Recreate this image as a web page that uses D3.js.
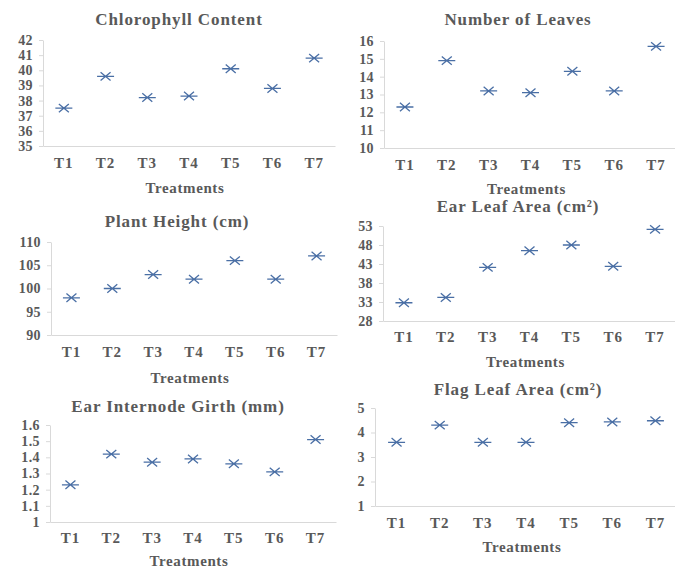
<!DOCTYPE html>
<html>
<head>
<meta charset="utf-8">
<script src="https://cdn.jsdelivr.net/npm/d3@7/dist/d3.min.js"></script>
<style>
  html, body { margin: 0; padding: 0; background: #ffffff; }
  svg { display: block; }
  .panel text { font-family: "Liberation Serif", "Times New Roman", serif; font-weight: bold; fill: #595959; }
</style>
</head>
<body>
<svg id="chart" width="675" height="569"></svg>
<script>
// Treatments shared by all six trait plots
const treatments = ["T1", "T2", "T3", "T4", "T5", "T6", "T7"];

// Trait means per treatment
const chlorophyll   = [37.5, 39.6, 38.2, 38.3, 40.1, 38.8, 40.8];
const leafCount     = [12.3, 14.9, 13.2, 13.1, 14.3, 13.2, 15.7];
const plantHeight   = [98, 100, 103, 102, 106, 102, 107];
const earLeafArea   = [32.8, 34.2, 42.1, 46.5, 48.0, 42.4, 52.1];
const internodeGirth = [1.23, 1.42, 1.37, 1.39, 1.36, 1.31, 1.51];
const flagLeafArea  = [3.6, 4.3, 3.6, 3.6, 4.4, 4.43, 4.48];

// Y-axis tick labels per trait
const chlorophyllTicks = [35, 36, 37, 38, 39, 40, 41, 42];
const leafCountTicks   = [10, 11, 12, 13, 14, 15, 16];
const heightTicks      = [90, 95, 100, 105, 110];
const earLeafTicks     = [28, 33, 38, 43, 48, 53];
const girthTicks       = [1, 1.1, 1.2, 1.3, 1.4, 1.5, 1.6];
const flagLeafTicks    = [1, 2, 3, 4, 5];

const titles = ["Chlorophyll Content", "Number of Leaves", "Plant Height (cm)",
                "Ear Leaf Area (cm²)", "Ear Internode Girth (mm)", "Flag Leaf Area (cm²)"];
const xTitle = "Treatments";

// Panel frames: plot box, title position and label baselines
const panels = [
  { values: chlorophyll,   ticks: chlorophyllTicks, fmt: d3.format("d"),
    left: 43,  right: 335, top: 40,  bottom: 146, titleX: 179, titleY: 25,  catY: 168, labY: 193 },
  { values: leafCount,     ticks: leafCountTicks,   fmt: d3.format("d"),
    left: 384, right: 677, top: 41,  bottom: 148, titleX: 518, titleY: 25,  catY: 170, labY: 194 },
  { values: plantHeight,   ticks: heightTicks,      fmt: d3.format("d"),
    left: 51,  right: 337, top: 242, bottom: 335, titleX: 177, titleY: 227, catY: 357, labY: 383 },
  { values: earLeafArea,   ticks: earLeafTicks,     fmt: d3.format("d"),
    left: 383, right: 676, top: 226, bottom: 321, titleX: 518, titleY: 212, catY: 342, labY: 367 },
  { values: internodeGirth, ticks: girthTicks,      fmt: d => d3.format(".1f")(d).replace(/\.0$/, ""),
    left: 50,  right: 336, top: 425, bottom: 522, titleX: 178, titleY: 412, catY: 543, labY: 566 },
  { values: flagLeafArea,  ticks: flagLeafTicks,    fmt: d3.format("d"),
    left: 375, right: 677, top: 408, bottom: 506, titleX: 518, titleY: 395, catY: 528, labY: 552 }
];

// Star marker: an X crossed by a horizontal stroke
const starMarker = {
  draw(context, size) {
    const w = 8.5, a = 5, h = 4.2;
    context.moveTo(-w, 0); context.lineTo(w, 0);
    context.moveTo(-a, -h); context.lineTo(a, h);
    context.moveTo(-a, h); context.lineTo(a, -h);
  }
};

const svg = d3.select("#chart");
const axisColor = "#d9d9d9";

panels.forEach((p, i) => {
  const g = svg.append("g").attr("class", "panel");

  const x = d3.scaleBand().domain(treatments).range([p.left, p.right]);
  const y = d3.scaleLinear()
    .domain([d3.min(p.ticks), d3.max(p.ticks)])
    .range([p.bottom, p.top]);

  // Title
  g.append("text")
    .attr("x", p.titleX).attr("y", p.titleY)
    .attr("text-anchor", "middle")
    .style("font-size", "17px")
    .style("letter-spacing", "0.9px")
    .text(titles[i]);

  // Y axis
  const yAxis = g.append("g")
    .attr("transform", `translate(${p.left},0)`)
    .call(d3.axisLeft(y).tickValues(p.ticks).tickFormat(p.fmt).tickSize(4).tickSizeOuter(0).tickPadding(6));
  yAxis.select(".domain").attr("stroke", axisColor);
  yAxis.selectAll(".tick line").attr("stroke", axisColor);
  yAxis.selectAll(".tick text").style("font-size", "14px").style("letter-spacing", "0.4px").attr("fill", "#595959");

  // X axis
  const xAxis = g.append("g")
    .attr("transform", `translate(0,${p.bottom})`)
    .call(d3.axisBottom(x).tickSize(0).tickSizeOuter(0));
  xAxis.select(".domain").attr("stroke", axisColor);
  xAxis.selectAll(".tick text")
    .attr("y", p.catY - p.bottom).attr("dy", null)
    .style("font-size", "15px").style("letter-spacing", "1px").attr("fill", "#595959");

  // X axis title
  g.append("text")
    .attr("x", (p.left + p.right) / 2 - 4).attr("y", p.labY)
    .attr("text-anchor", "middle")
    .style("font-size", "15px")
    .style("letter-spacing", "0.6px")
    .text(xTitle);

  // Markers
  g.selectAll("path.pt")
    .data(p.values)
    .join("path")
    .attr("class", "pt")
    .attr("transform", (d, j) => `translate(${x(treatments[j]) + x.bandwidth() / 2},${y(d)})`)
    .attr("d", d3.symbol().type(starMarker))
    .attr("fill", "none")
    .attr("stroke", "#4a6fa5")
    .attr("stroke-width", 1.3);
});
</script>
</body>
</html>
